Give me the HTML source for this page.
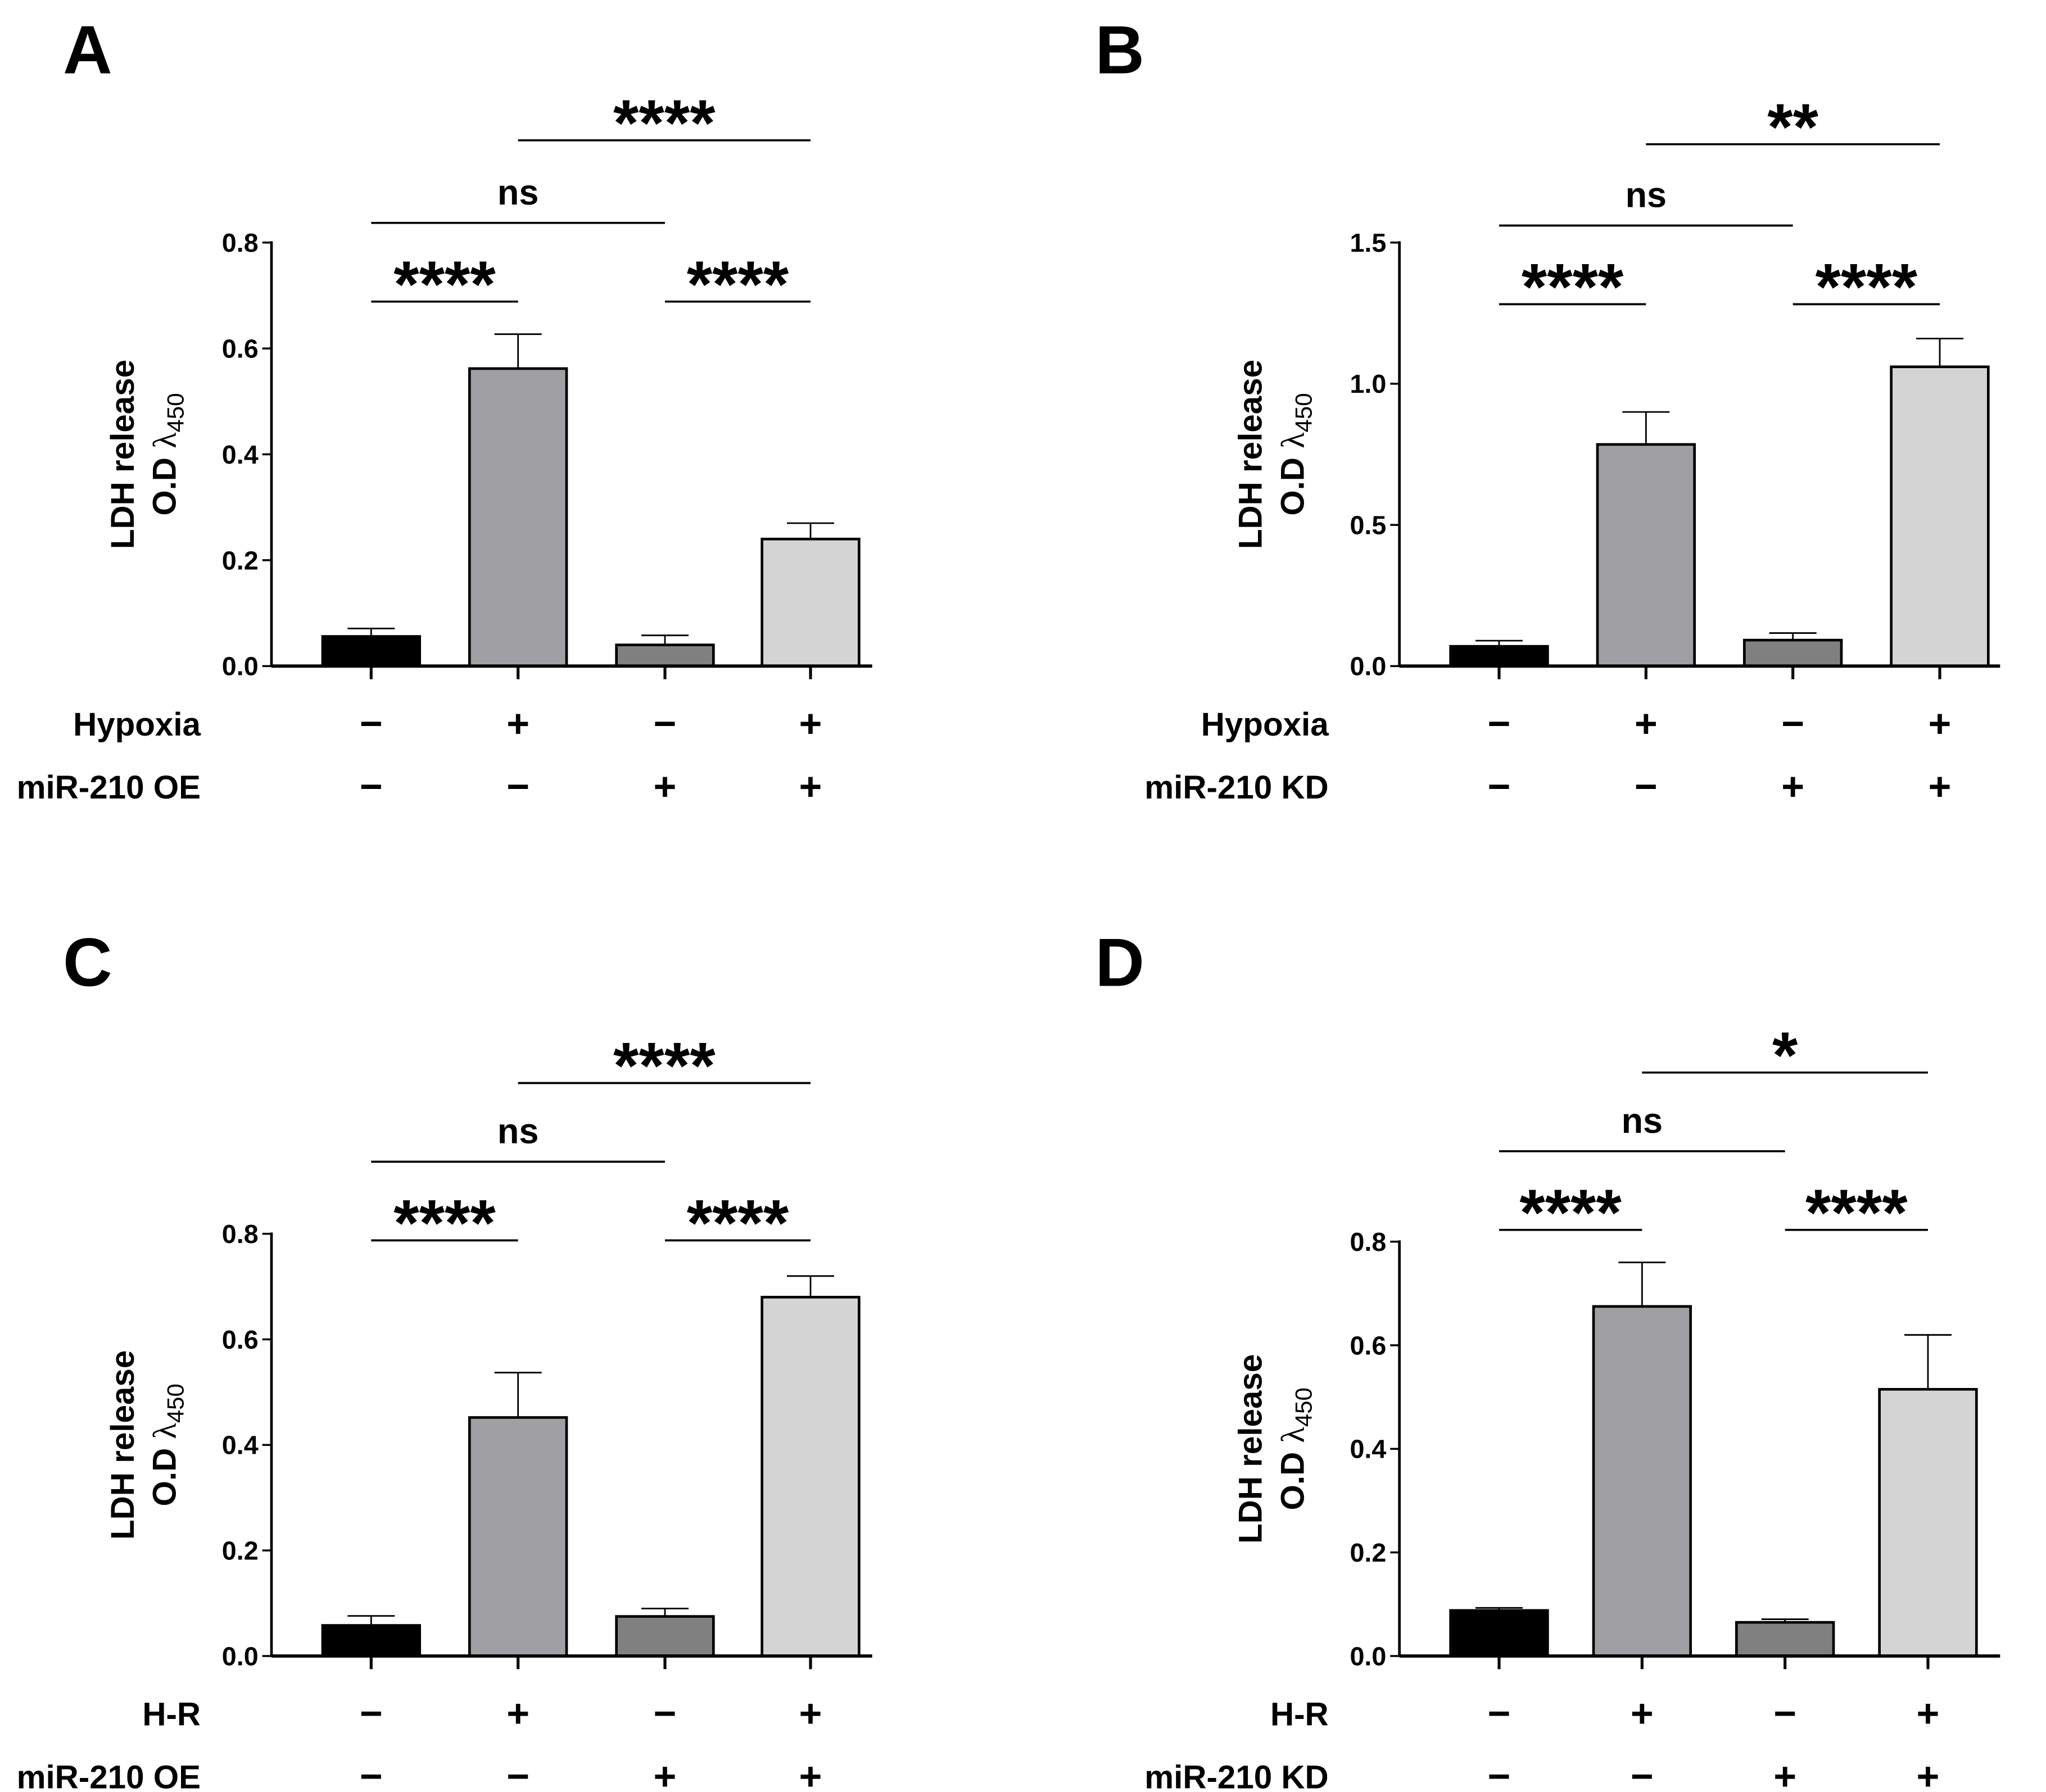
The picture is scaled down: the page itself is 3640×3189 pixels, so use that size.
<!DOCTYPE html>
<html><head><meta charset="utf-8"><style>
html,body{margin:0;padding:0;background:#fff}
svg{display:block}
text{font-family:"Liberation Sans",Arial,sans-serif;font-weight:bold;fill:#000}
</style></head><body>
<svg id="fig" width="3640" height="3189" viewBox="0 0 1560 1366.7" xmlns="http://www.w3.org/2000/svg"></svg>
<script>
// Panel data
const panelLetters = ["A","B","C","D"];
const valuesA = [0.056, 0.562, 0.040, 0.240];
const errorsA = [0.015, 0.065, 0.018, 0.030];
const valuesB = [0.070, 0.785, 0.092, 1.060];
const errorsB = [0.020, 0.115, 0.025, 0.100];
const valuesC = [0.058, 0.452, 0.075, 0.680];
const errorsC = [0.018, 0.085, 0.015, 0.040];
const valuesD = [0.088, 0.675, 0.065, 0.515];
const errorsD = [0.005, 0.085, 0.006, 0.105];
const ticksA = ["0.0","0.2","0.4","0.6","0.8"];
const ticksB = ["0.0","0.5","1.0","1.5"];
const ticksC = ["0.0","0.2","0.4","0.6","0.8"];
const ticksD = ["0.0","0.2","0.4","0.6","0.8"];
const row1Labels = ["Hypoxia","Hypoxia","H-R","H-R"];
const row2Labels = ["miR-210 OE","miR-210 KD","miR-210 OE","miR-210 KD"];
const row1Signs = ["−","+","−","+"];
const row2Signs = ["−","−","+","+"];
const sigA = ["****","ns","****","****"];
const sigB = ["****","ns","**","****"];
const sigC = ["****","ns","****","****"];
const sigD = ["****","ns","*","****"];

const NS="http://www.w3.org/2000/svg";
const svg=document.getElementById('fig');
function mk(tag,attrs,parent){const e=document.createElementNS(NS,tag);for(const k in attrs)e.setAttribute(k,attrs[k]);(parent||svg).appendChild(e);return e;}
const fills=["#000000","#a0a0a4","#808080","#d4d4d4"];

const layouts=[
 {ox:0, lx:48, y0:508, yTop:185, xs:[283,395,507,618], max:0.8, ticks:ticksA, vals:valuesA, errs:errorsA, sig:sigA, letterY:56, brY:[230,170,107,230], rowY:[552,600]},
 {ox:860, lx:835, y0:508, yTop:185, xs:[1143,1255,1367,1479], max:1.5, ticks:ticksB, vals:valuesB, errs:errorsB, sig:sigB, letterY:56, brY:[232,172,110,232], rowY:[552,600]},
 {ox:0, lx:48, y0:1263, yTop:941, xs:[283,395,507,618], max:0.8, ticks:ticksC, vals:valuesC, errs:errorsC, sig:sigC, letterY:752, brY:[946,886,826,946], rowY:[1307,1355]},
 {ox:860, lx:835, y0:1263, yTop:947, xs:[1143,1252,1361,1470], max:0.8, ticks:ticksD, vals:valuesD, errs:errorsD, sig:sigD, letterY:752, brY:[938,878,818,938], rowY:[1307,1355]}
];

layouts.forEach((L,p)=>{
  const g=mk('g',{});
  
  
  const ax=207+L.ox, xEnd=665+L.ox;
  const yS=v=>L.y0-(v/L.max)*(L.y0-L.yTop);
  const lt=mk('text',{x:L.lx,y:L.letterY,'font-size':52},g);lt.textContent=panelLetters[p];
  
  
  L.vals.forEach((v,i)=>{
    const cx=L.xs[i], w=74;
    const top=yS(v), et=yS(v+L.errs[i]);
    const eb=mk('line',{x1:cx,x2:cx,y1:top,y2:et,stroke:'#000','stroke-width':1.2},g);
    
    
    const cap=mk('line',{x1:cx-18,x2:cx+18,y1:et,y2:et,stroke:'#000','stroke-width':1.2},g);
    
    
    const r=mk('rect',{x:cx-w/2,y:top,width:w,height:L.y0-top,fill:fills[i],stroke:'#000','stroke-width':2},g);
    
    
  });
  const ya=mk('line',{x1:ax,x2:ax,y1:L.yTop-1,y2:L.y0,stroke:'#000','stroke-width':2},g);
  
  
  const xa=mk('line',{x1:ax,x2:xEnd,y1:L.y0,y2:L.y0,stroke:'#000','stroke-width':2.5},g);
  
  
  L.xs.forEach(cx=>{
    const t=mk('line',{x1:cx,x2:cx,y1:L.y0,y2:L.y0+10,stroke:'#000','stroke-width':2.2},g);
    
    
  });
  const step=L.max/(L.ticks.length-1);
  L.ticks.forEach((lab,k)=>{
    const y=yS(k*step);
    const t=mk('line',{x1:ax-7,x2:ax,y1:y,y2:y,stroke:'#000','stroke-width':1.5},g);
    
    
    const tx=mk('text',{x:ax-10,y:y+7,'font-size':20,'text-anchor':'end'},g);tx.textContent=lab;
    
    
  });
  const cy=(L.y0+L.yTop)/2;
  const t1=mk('text',{x:0,y:0,'font-size':25,'text-anchor':'middle',transform:`translate(${102+L.ox},${cy}) rotate(-90)`},g);
  t1.textContent='LDH release';
  
  
  const t2=mk('text',{x:0,y:0,'font-size':25,'text-anchor':'middle',transform:`translate(${134+L.ox},${cy}) rotate(-90)`},g);
  t2.innerHTML='O.D <tspan font-family="Liberation Serif, serif" font-weight="normal">λ</tspan><tspan font-size="18" font-weight="normal" dy="6">450</tspan>';
  
  
  [[row1Labels[p],row1Signs,L.rowY[0]],[row2Labels[p],row2Signs,L.rowY[1]]].forEach(([lab,signs,y])=>{
    const tl=mk('text',{x:153+L.ox,y:y+9,'font-size':25,'text-anchor':'end'},g);tl.textContent=lab;
    
    
    signs.forEach((s,i)=>{
      const ts=mk('text',{x:L.xs[i],y:y+10,'font-size':30,'text-anchor':'middle'},g);ts.textContent=s;
      
      
    });
  });
  const pairs=[[0,1],[0,2],[1,3],[2,3]];
  pairs.forEach((pr,k)=>{
    const y=L.brY[k];
    const ln=mk('line',{x1:L.xs[pr[0]],x2:L.xs[pr[1]],y1:y,y2:y,stroke:'#000','stroke-width':1.6},g);
    
    
    const isNs=L.sig[k]==='ns';
    const tt=mk('text',{x:(L.xs[pr[0]]+L.xs[pr[1]])/2,y:isNs?y-14:y+4,'font-size':isNs?27:50,'text-anchor':'middle','letter-spacing':isNs?0:0},g);
    tt.textContent=L.sig[k];
    
    
  });
});
</script>
</body></html>
